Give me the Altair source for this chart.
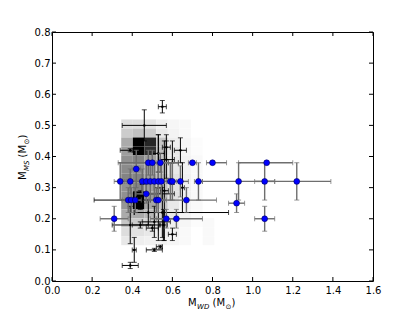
import altair as alt
import pandas as pd

# ---------------- data ----------------
# blue points (x, y, x-error minus, x-error plus, y-error)
blue_x  = [0.31, 0.34, 0.39, 0.42, 0.38, 0.395, 0.415, 0.45, 0.47, 0.47, 0.48, 0.50, 0.49, 0.51, 0.53, 0.545,
           0.52, 0.53, 0.54, 0.57, 0.59, 0.60, 0.62, 0.64, 0.67, 0.70, 0.73, 0.80, 0.92, 0.93, 1.06, 1.06, 1.07, 1.22]
blue_y  = [0.20, 0.32, 0.32, 0.36, 0.26, 0.26, 0.26, 0.32, 0.28, 0.32, 0.38, 0.38, 0.32, 0.32, 0.32, 0.32,
           0.26, 0.26, 0.38, 0.20, 0.32, 0.32, 0.20, 0.32, 0.26, 0.38, 0.32, 0.38, 0.25, 0.32, 0.32, 0.20, 0.38, 0.32]
blue_xm = [0.07, 0.03, 0.03, 0.02, 0.03, 0.03, 0.03, 0.05, 0.05, 0.03, 0.15, 0.02, 0.03, 0.03, 0.03, 0.03,
           0.04, 0.04, 0.05, 0.05, 0.03, 0.03, 0.13, 0.04, 0.15, 0.02, 0.02, 0.03, 0.04, 0.18, 0.05, 0.05, 0.14, 0.17]
blue_xp = [0.07, 0.03, 0.03, 0.02, 0.03, 0.03, 0.03, 0.05, 0.05, 0.03, 0.15, 0.02, 0.03, 0.03, 0.03, 0.03,
           0.04, 0.04, 0.04, 0.05, 0.03, 0.03, 0.13, 0.04, 0.15, 0.02, 0.02, 0.07, 0.04, 0.18, 0.05, 0.05, 0.13, 0.17]
blue_ye = [0.04, 0.06, 0.04, 0.06, 0.04, 0.04, 0.04, 0.04, 0.03, 0.06, 0.04, 0.04, 0.06, 0.06, 0.06, 0.06,
           0.04, 0.04, 0.03, 0.03, 0.06, 0.06, 0.03, 0.05, 0.04, 0.005, 0.06, 0.005, 0.03, 0.06, 0.06, 0.04, 0.005, 0.06]

# black points
blk_x  = [0.55, 0.46, 0.39, 0.57, 0.64, 0.53, 0.57, 0.60, 0.39, 0.44, 0.50, 0.48, 0.60, 0.51, 0.555, 0.55,
          0.41, 0.39, 0.51, 0.54, 0.44, 0.45, 0.53, 0.56, 0.65]
blk_y  = [0.56, 0.50, 0.42, 0.43, 0.42, 0.41, 0.39, 0.38, 0.18, 0.18, 0.17, 0.22, 0.15, 0.19, 0.18, 0.22,
          0.10, 0.05, 0.10, 0.11, 0.26, 0.28, 0.30, 0.29, 0.30]
blk_xm = [0.02, 0.11, 0.05, 0.02, 0.03, 0.03, 0.03, 0.02, 0.09, 0.04, 0.03, 0.07, 0.02, 0.06, 0.02, 0.14,
          0.01, 0.04, 0.04, 0.02, 0.23, 0.04, 0.02, 0.02, 0.01]
blk_xp = [0.02, 0.11, 0.01, 0.02, 0.03, 0.03, 0.04, 0.03, 0.15, 0.04, 0.03, 0.08, 0.02, 0.08, 0.02, 0.33,
          0.01, 0.04, 0.04, 0.01, 0.05, 0.16, 0.02, 0.02, 0.01]
blk_ye = [0.02, 0.05, 0.005, 0.04, 0.04, 0.06, 0.06, 0.07, 0.06, 0.01, 0.01, 0.04, 0.02, 0.05, 0.05, 0.08,
          0.04, 0.01, 0.005, 0.005, 0.03, 0.03, 0.17, 0.16, 0.08]

# 2D density histogram (darkness 0..1), rows from top to bottom
hist_x_edges = [0.345, 0.403, 0.461, 0.519, 0.577, 0.635, 0.693, 0.751, 0.809]
hist_y_edges = [0.519, 0.490, 0.461, 0.432, 0.404, 0.375, 0.346, 0.317, 0.288, 0.259, 0.230, 0.202, 0.173, 0.144, 0.115]
hist_vals = [
    [0.12, 0.12, 0.10, 0.06, 0.03, 0.02, 0.00, 0.00],
    [0.18, 0.22, 0.18, 0.08, 0.04, 0.02, 0.00, 0.00],
    [0.30, 1.00, 0.85, 0.20, 0.06, 0.03, 0.01, 0.00],
    [0.35, 1.00, 0.80, 0.22, 0.08, 0.03, 0.01, 0.00],
    [0.40, 0.45, 0.35, 0.20, 0.08, 0.04, 0.02, 0.00],
    [0.42, 0.40, 0.32, 0.22, 0.08, 0.04, 0.02, 0.00],
    [0.45, 0.45, 0.35, 0.25, 0.10, 0.05, 0.02, 0.00],
    [0.40, 0.45, 0.35, 0.22, 0.10, 0.05, 0.02, 0.00],
    [0.40, 1.00, 0.35, 0.25, 0.10, 0.05, 0.02, 0.00],
    [0.38, 1.00, 0.32, 0.20, 0.08, 0.04, 0.02, 0.00],
    [0.30, 0.30, 0.25, 0.15, 0.08, 0.04, 0.02, 0.00],
    [0.20, 0.18, 0.15, 0.10, 0.06, 0.03, 0.01, 0.02],
    [0.12, 0.10, 0.08, 0.06, 0.04, 0.02, 0.00, 0.02],
    [0.08, 0.06, 0.05, 0.04, 0.03, 0.02, 0.00, 0.02],
]

x_ticks = [0.0, 0.2, 0.4, 0.6, 0.8, 1.0, 1.2, 1.4, 1.6]
y_ticks = [0.0, 0.1, 0.2, 0.3, 0.4, 0.5, 0.6, 0.7, 0.8]

# ---------------- tables ----------------
cells = []
for r, row in enumerate(hist_vals):
    for c, v in enumerate(row):
        if v > 0:
            cells.append({"x0": hist_x_edges[c], "x1": hist_x_edges[c + 1],
                          "y0": hist_y_edges[r + 1], "y1": hist_y_edges[r], "v": v})
hist_df = pd.DataFrame(cells)


def err_table(xs, ys, xm, xp, ye):
    return pd.DataFrame({
        "x": xs, "y": ys,
        "xlo": [a - b for a, b in zip(xs, xm)], "xhi": [a + b for a, b in zip(xs, xp)],
        "ylo": [a - b for a, b in zip(ys, ye)], "yhi": [a + b for a, b in zip(ys, ye)],
    })


blue_df = err_table(blue_x, blue_y, blue_xm, blue_xp, blue_ye)
blk_df = err_table(blk_x, blk_y, blk_xm, blk_xp, blk_ye)

W, H = 321, 249
FONT = "DejaVu Sans"
xs = alt.Scale(domain=[0, 1.6], nice=False, zero=False)
ys = alt.Scale(domain=[0, 0.8], nice=False, zero=False)
xaxis = alt.Axis(values=x_ticks, format=".1f", title=None, ticks=False, domain=False, grid=False,
                 labelFontSize=10, labelFont=FONT, labelColor="black", labelPadding=4, labelFlush=False)
yaxis = alt.Axis(values=y_ticks, format=".1f", title=None, ticks=False, domain=False, grid=False,
                 labelFontSize=10, labelFont=FONT, labelColor="black", labelPadding=2, labelFlush=False)


def X(f):
    return alt.X(f, type="quantitative", scale=xs, axis=xaxis)


def Y(f):
    return alt.Y(f, type="quantitative", scale=ys, axis=yaxis)


hist = alt.Chart(hist_df).mark_rect(stroke=None).encode(
    x=X("x0"), x2="x1", y=Y("y0"), y2="y1",
    color=alt.Color("v:Q", scale=alt.Scale(domain=[0, 1], range=["#ffffff", "#000000"]), legend=None),
)


def errbars(df, color, width, cap):
    base = alt.Chart(df)
    hx = base.mark_rule(color=color, strokeWidth=width).encode(x=X("xlo"), x2="xhi", y=Y("y"))
    vy = base.mark_rule(color=color, strokeWidth=width).encode(x=X("x"), y=Y("ylo"), y2="yhi")
    c1 = base.mark_tick(color=color, orient="vertical", thickness=1, size=cap).encode(x=X("xlo"), y=Y("y"))
    c2 = base.mark_tick(color=color, orient="vertical", thickness=1, size=cap).encode(x=X("xhi"), y=Y("y"))
    c3 = base.mark_tick(color=color, orient="horizontal", thickness=1, size=cap).encode(x=X("x"), y=Y("ylo"))
    c4 = base.mark_tick(color=color, orient="horizontal", thickness=1, size=cap).encode(x=X("x"), y=Y("yhi"))
    return [hx, vy, c1, c2, c3, c4]


blk_err = errbars(blk_df, "#000000", 1, 5)
blk_pts = alt.Chart(blk_df).mark_point(filled=True, shape="circle", size=6, color="black", opacity=1).encode(
    x=X("x"), y=Y("y"))
blue_err = errbars(blue_df, "#6e6e6e", 1.4, 5)
blue_pts = alt.Chart(blue_df).mark_point(filled=True, shape="circle", size=34, fill="#0000ff",
                                         stroke="#000060", strokeWidth=0.6, opacity=1).encode(
    x=X("x"), y=Y("y"))

# inward tick marks on all four sides
xt = pd.DataFrame({"v": x_ticks})
yt = pd.DataFrame({"v": y_ticks})
tick_layers = [
    alt.Chart(xt).mark_rule(color="black", strokeWidth=1).encode(x=X("v"), y=alt.value(H), y2=alt.value(H - 4)),
    alt.Chart(xt).mark_rule(color="black", strokeWidth=1).encode(x=X("v"), y=alt.value(0), y2=alt.value(4)),
    alt.Chart(yt).mark_rule(color="black", strokeWidth=1).encode(y=Y("v"), x=alt.value(0), x2=alt.value(4)),
    alt.Chart(yt).mark_rule(color="black", strokeWidth=1).encode(y=Y("v"), x=alt.value(W), x2=alt.value(W - 4)),
]


def txt(s, x, y, size, italic=False, angle=0):
    return alt.Chart(pd.DataFrame({"t": [s]})).mark_text(
        text=s, font=FONT, fontSize=size, fontStyle="italic" if italic else "normal",
        align="left", baseline="alphabetic", color="black", angle=angle,
    ).encode(x=alt.value(x), y=alt.value(y))


# x-axis title: M_WD (M_sun)
x0, yb = 136, 274
xtitle = [
    txt("M", x0, yb, 10),
    txt("WD", x0 + 9, yb + 2.5, 7, italic=True),
    txt("(M", x0 + 24.5, yb, 10),
    txt("⊙", x0 + 37.5, yb + 2.5, 7),
    txt(")", x0 + 43.5, yb, 10),
]
# y-axis title: M_MS (M_sun), rotated
xb, y0 = -26, 148
ytitle = [
    txt("M", xb, y0, 10, angle=270),
    txt("MS", xb + 2.5, y0 - 9, 7, italic=True, angle=270),
    txt("(M", xb, y0 - 22.5, 10, angle=270),
    txt("⊙", xb + 2.5, y0 - 35.5, 7, angle=270),
    txt(")", xb, y0 - 41.5, 10, angle=270),
]

chart = alt.layer(
    hist, *blk_err, blk_pts, *blue_err, blue_pts, *tick_layers, *xtitle, *ytitle
).properties(
    width=W, height=H,
    padding={"left": 44, "top": 24, "right": 34, "bottom": 31},
    autosize=alt.AutoSizeParams(type="none"),
).configure(
    background="white",
    view=alt.ViewConfig(stroke="black", strokeWidth=1),
)

chart.save("out.html", embed_options={"renderer": "svg", "actions": False})
